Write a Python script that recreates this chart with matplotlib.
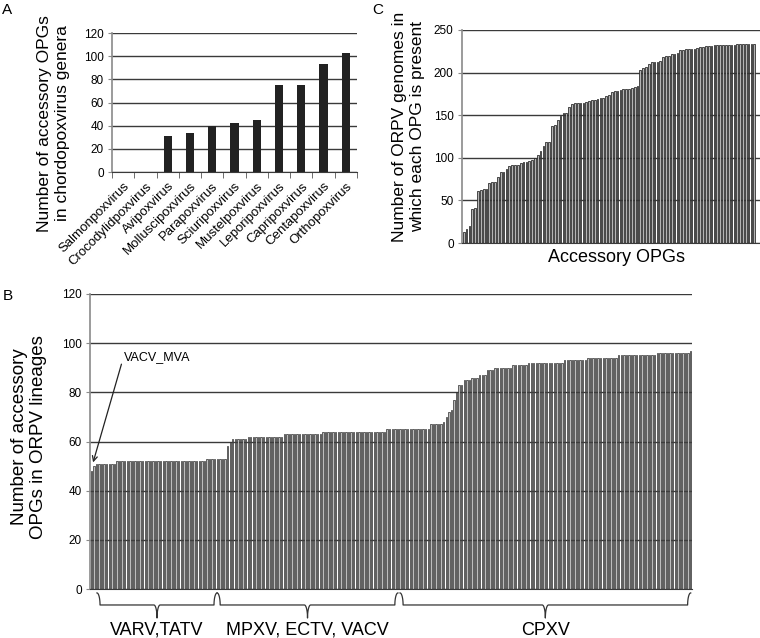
import numpy as np
import matplotlib
matplotlib.use("Agg")
import matplotlib.pyplot as plt

plt.rcParams['font.family'] = ['Liberation Sans', 'DejaVu Sans']

# --- Panel A: accessory OPGs per chordopoxvirus genus ---
genera = ["Salmonpoxvirus", "Crocodylidpoxvirus", "Avipoxvirus", "Molluscipoxvirus",
          "Parapoxvirus", "Sciuripoxvirus", "Mustelpoxvirus", "Leporipoxvirus",
          "Capripoxvirus", "Centapoxvirus", "Orthopoxvirus"]
genus_counts = [0, 0, 31, 34, 40, 42, 45, 75, 75, 93, 103]

# --- Panel B: accessory OPGs per ORPV genome (runs of equal values) ---
lineage_levels = [48, 50, 51, 52, 53, 58, 60, 61, 62, 63, 64, 65, 67, 68, 70, 72, 73, 77, 80,
                  83, 85, 86, 87, 89, 90, 91, 92, 93, 94, 95, 96, 97]
lineage_runs = [1, 1, 8, 35, 8, 1, 1, 6, 14, 15, 25, 17, 5, 1, 1, 1, 1, 1, 1,
                2, 3, 3, 3, 3, 7, 6, 14, 9, 12, 15, 13, 1]
lineage_counts = np.repeat(lineage_levels, lineage_runs)

# brace groups (start bar, end bar, label)
groups = [(2.2, 48.9, "VARV,TATV"), (48.9, 119.2, "MPXV, ECTV, VACV"), (120.0, 233.0, "CPXV")]

# --- Panel C: number of ORPV genomes containing each accessory OPG ---
opg_presence = [13, 17, 20, 40, 41, 61, 62, 63, 63, 71,
                72, 72, 78, 83, 83, 87, 90, 92, 92, 92,
                94, 95, 95, 96, 97, 100, 103, 108, 114, 118,
                119, 137, 139, 144, 149, 153, 153, 160, 163, 164,
                164, 164, 164, 166, 167, 168, 168, 169, 170, 170,
                172, 174, 177, 178, 178, 180, 181, 181, 181, 182,
                183, 184, 203, 205, 206, 210, 212, 212, 212, 214,
                218, 220, 220, 222, 222, 223, 226, 227, 228, 228,
                228, 228, 229, 230, 230, 231, 231, 231, 232, 232,
                232, 232, 232, 232, 232, 232, 233, 233, 233, 233,
                233, 233, 233]

W, H = 760, 638
fig = plt.figure(figsize=(W / 100, H / 100), dpi=100)


def axes_px(left, top, right, bottom):
    return fig.add_axes([left / W, 1 - bottom / H, (right - left) / W, (bottom - top) / H])


def style(ax):
    ax.set_axisbelow(True)
    ax.yaxis.grid(True, color='#3a3a3a', linewidth=1.0)
    for s in ['top', 'right']:
        ax.spines[s].set_visible(False)
    ax.spines['left'].set_color('#8a8a8a')
    ax.spines['left'].set_linewidth(1.2)
    ax.spines['bottom'].set_color('#3a3a3a')
    ax.tick_params(axis='y', length=3, color='#8a8a8a', labelsize=8.5, pad=3)


# ---------------- Panel A ----------------
axA = axes_px(112, 33, 357, 172)
style(axA)
xa = np.arange(len(genera))
axA.bar(xa, genus_counts, width=0.37, color='#222222')
axA.set_xlim(-0.5, len(genera) - 0.5)
axA.set_ylim(0, 120)
axA.set_yticks(np.arange(0, 121, 20))
axA.set_xticks(xa)
axA.set_xticklabels(genera, rotation=45, ha='right', rotation_mode='anchor', fontsize=9.5)
axA.tick_params(axis='x', which='major', length=0, pad=6)
axA.set_xticks(np.arange(-0.5, len(genera), 1), minor=True)
axA.tick_params(axis='x', which='minor', length=4, color='#555555')
axA.set_ylabel("Number of accessory OPGs\nin chordopoxvirus genera", fontsize=12.5,
               linespacing=1.25, va='center')
axA.yaxis.set_label_coords(-0.24, 0.35)

# ---------------- Panel C ----------------
axC = axes_px(462, 30, 760, 243)
style(axC)
xc = np.arange(len(opg_presence))
axC.bar(xc, opg_presence, width=0.6, color='#b4b4b4', edgecolor='#202020', linewidth=0.55)
axC.set_xlim(-0.6, 104)
axC.set_ylim(0, 250)
axC.set_yticks(np.arange(0, 251, 50))
axC.set_xticks([])
axC.set_ylabel("Number of ORPV genomes in\nwhich each OPG is present", fontsize=12.5,
               linespacing=1.25, va='center')
axC.yaxis.set_label_coords(-0.181, 0.545)
axC.set_xlabel("Accessory OPGs", fontsize=13, va='center')
axC.xaxis.set_label_coords(0.517, -0.07)

# ---------------- Panel B ----------------
axB = axes_px(90, 294, 692, 589)
style(axB)
xb = np.arange(len(lineage_counts))
axB.bar(xb, lineage_counts, width=0.55, color='#bdbdbd', edgecolor='#1a1a1a', linewidth=0.45)
axB.set_xlim(-0.5, len(lineage_counts) - 0.5)
axB.set_ylim(0, 120)
axB.set_yticks(np.arange(0, 121, 20))
axB.set_xticks([])
axB.set_ylabel("Number of accessory\nOPGs in ORPV lineages", fontsize=13.5,
               linespacing=1.2, va='center')
axB.yaxis.set_label_coords(-0.101, 0.515)

axB.annotate("VACV_MVA", xy=(0.7, 51.5), xytext=(12.8, 94.4), fontsize=9, va='center', ha='left',
             arrowprops=dict(arrowstyle='->', color='#222222', lw=0.9, relpos=(0, 0.7),
                             shrinkA=0, shrinkB=0))


def brace(ax, x0, x1, label, ytop=-1.6, ymid=-6.5, ytip=-11.8, ylab=-16.7):
    xm = (x0 + x1) / 2
    rx = 1.2
    t = np.linspace(0, np.pi / 2, 12)
    # end curl (left side)
    lx = x0 + rx * np.sin(t)
    ly = ymid + (ytop - ymid) * np.cos(t)
    # center tip (left half)
    cx1 = xm - rx + rx * np.sin(t)
    cy1 = ymid + (ytip - ymid) * (1 - np.cos(t))
    xs = np.concatenate([lx, cx1, (2 * xm - cx1)[::-1], (2 * xm - lx)[::-1]])
    ys = np.concatenate([ly, cy1, cy1[::-1], ly[::-1]])
    ax.plot(xs, ys, color='#333333', lw=0.9, clip_on=False)
    ax.text(xm, ylab, label, ha='center', va='center', fontsize=13)


for g0, g1, lab in groups:
    brace(axB, g0, g1, lab)

# panel letters
fig.text(7 / W, 1 - 10 / H, "A", fontsize=11, ha='center', va='center')
fig.text(8 / W, 1 - 296 / H, "B", fontsize=11, ha='center', va='center')
fig.text(378 / W, 1 - 10 / H, "C", fontsize=11, ha='center', va='center')

fig.savefig("out.png", dpi=100)
